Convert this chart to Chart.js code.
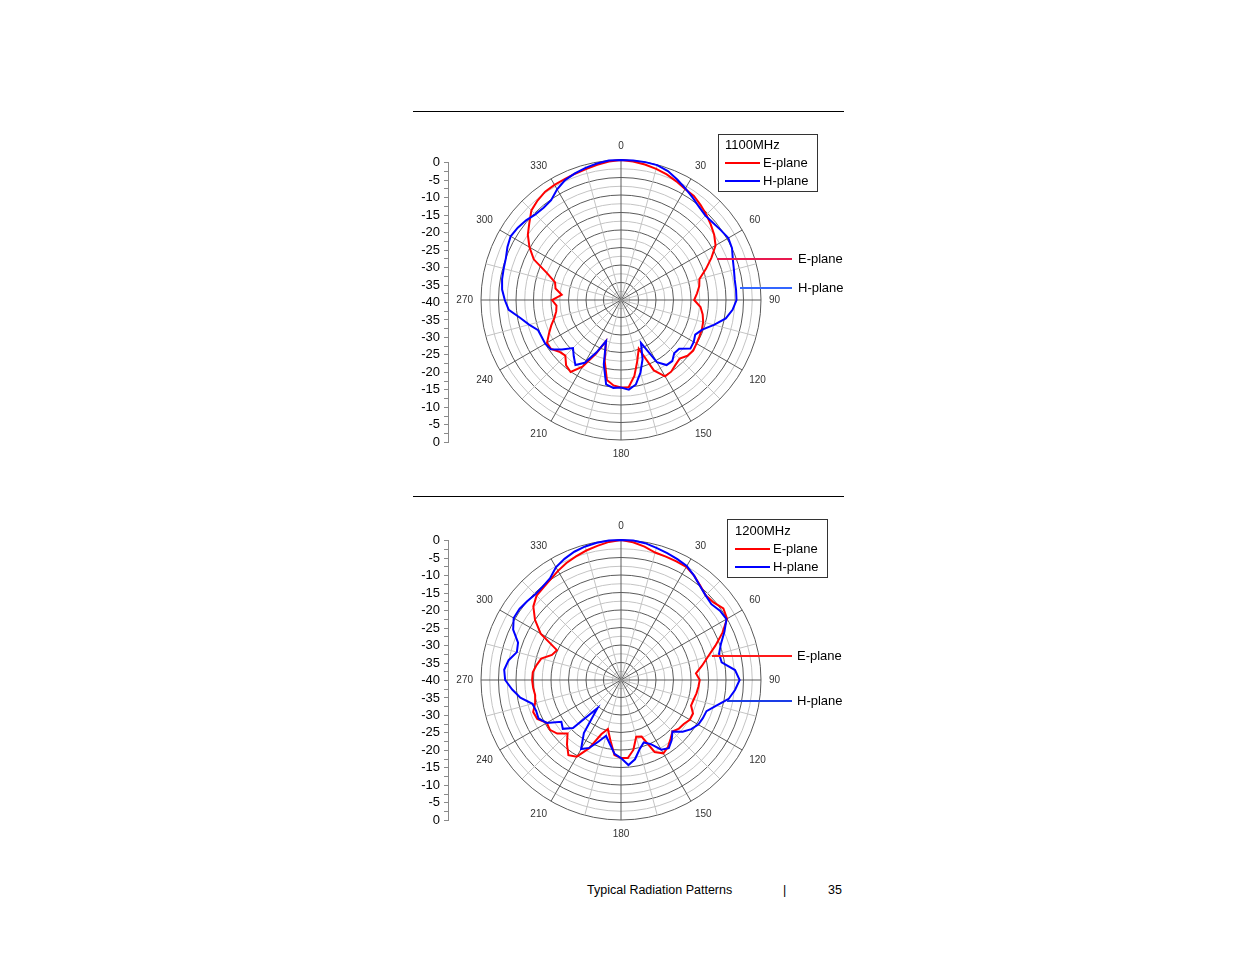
<!DOCTYPE html>
<html>
<head>
<meta charset="utf-8">
<script src="https://cdn.jsdelivr.net/npm/chart.js@4.4.1/dist/chart.umd.min.js"></script>
<style>
  html, body { margin:0; padding:0; background:#fff; }
  body { width:1235px; height:954px; position:relative; overflow:hidden; font-family:"Liberation Sans", Arial, sans-serif; color:#000; }
  canvas { position:absolute; }
  .rule { position:absolute; left:413px; width:431px; height:0; border-top:1px solid #000; }
  .box { position:absolute; border:1px solid #333; background:#fff; }
  .t { position:absolute; font-size:13px; line-height:14px; white-space:nowrap; }
  .f { position:absolute; font-size:12.5px; line-height:14px; white-space:nowrap; }
  .ln { position:absolute; height:0; }
</style>
</head>
<body>

<div class="rule" style="top:111px"></div>
<div class="rule" style="top:496px"></div>

<canvas id="axis1" width="50" height="303" style="left:408px;top:151px"></canvas>
<canvas id="polar1" width="400" height="320" style="left:421px;top:140px"></canvas>
<canvas id="axis2" width="50" height="303" style="left:408px;top:529px"></canvas>
<canvas id="polar2" width="400" height="320" style="left:421px;top:520px"></canvas>

<!-- legend 1 -->
<div class="box" style="left:718px;top:134px;width:98px;height:56px"></div>
<div class="t" style="left:725px;top:138px">1100MHz</div>
<div class="ln" style="left:725px;top:162px;width:35px;border-top:2px solid #ff0000"></div>
<div class="t" style="left:763px;top:156px">E-plane</div>
<div class="ln" style="left:725px;top:180px;width:35px;border-top:2px solid #0000ff"></div>
<div class="t" style="left:763px;top:174px">H-plane</div>

<!-- callouts 1 -->
<div class="ln" style="left:717px;top:258px;width:75px;border-top:2px solid #e8194f"></div>
<div class="t" style="left:798px;top:252px">E-plane</div>
<div class="ln" style="left:740px;top:287px;width:52px;border-top:2px solid #3366ff"></div>
<div class="t" style="left:798px;top:281px">H-plane</div>

<!-- legend 2 -->
<div class="box" style="left:727px;top:519px;width:99px;height:57px"></div>
<div class="t" style="left:735px;top:524px">1200MHz</div>
<div class="ln" style="left:735px;top:548px;width:35px;border-top:2px solid #ff0000"></div>
<div class="t" style="left:773px;top:542px">E-plane</div>
<div class="ln" style="left:735px;top:566px;width:35px;border-top:2px solid #0000ff"></div>
<div class="t" style="left:773px;top:560px">H-plane</div>

<!-- callouts 2 -->
<div class="ln" style="left:712px;top:655px;width:80px;border-top:2px solid #ff1a1a"></div>
<div class="t" style="left:797px;top:649px">E-plane</div>
<div class="ln" style="left:727px;top:700px;width:65px;border-top:2px solid #1a3ce6"></div>
<div class="t" style="left:797px;top:694px">H-plane</div>

<!-- footer -->
<div class="f" style="left:587px;top:883px">Typical Radiation Patterns</div>
<div class="f" style="left:783px;top:883px">|</div>
<div class="f" style="left:828px;top:883px">35</div>

<script>
// ---- data (dB, every 5 degrees, 0 = top, clockwise) ----
const angles = [0,5,10,15,20,25,30,35,40,45,50,55,60,65,70,75,80,85,90,95,100,105,110,115,120,125,130,135,140,145,150,155,160,165,170,175,180,185,190,195,200,205,210,215,220,225,230,235,240,245,250,255,260,265,270,275,280,285,290,295,300,305,310,315,320,325,330,335,340,345,350,355];

const e1100 = [0,-0.3,-0.7,-1.2,-1.8,-2.6,-3.4,-3.7,-4.6,-5.5,-6.5,-7.5,-8.8,-11.5,-14.2,-16.8,-17.3,-18.2,-19.1,-17.2,-16.3,-15.7,-15.4,-15.3,-15.1,-14.8,-15.2,-16.3,-15.8,-15.0,-14.8,-17.8,-25.2,-22.0,-18.0,-15.0,-15.0,-15.5,-16.8,-22.0,-27.5,-23.0,-18.0,-14.9,-15.6,-17.5,-17.0,-15.6,-15.6,-17.3,-18.8,-20.3,-21.2,-21.5,-20.3,-23.0,-21.0,-20.5,-17.5,-12.5,-9.8,-7.5,-5.8,-3.8,-2.9,-2.2,-2.0,-1.9,-1.6,-1.3,-0.8,-0.3];

const h1100 = [0,0,0,-0.1,-0.8,-2.0,-3.2,-4.3,-5.3,-5.9,-5.7,-5.2,-4.6,-5.0,-6.0,-6.6,-7.0,-7.0,-7.0,-8.0,-9.6,-12.5,-15.3,-16.6,-16.0,-15.8,-18.3,-18.5,-17.2,-17.3,-19.5,-26.5,-22.0,-18.5,-15.5,-14.3,-15.0,-14.8,-15.5,-21.0,-27.5,-23.5,-19.3,-17.3,-19.0,-20.6,-18.0,-15.5,-15.0,-15.0,-14.8,-12.8,-10.7,-7.8,-6.8,-5.9,-5.5,-5.3,-5.0,-4.2,-3.6,-4.0,-4.6,-5.4,-5.6,-5.2,-3.5,-2.2,-1.5,-0.9,-0.4,0];

const e1200 = [0,-0.5,-1.3,-2.3,-2.5,-2.6,-2.7,-3.6,-4.8,-5.8,-5.5,-4.3,-5.0,-8.0,-11.3,-14.3,-16.5,-18.5,-17.5,-17.8,-18.1,-18.5,-18.7,-17.3,-17.3,-18.1,-18.4,-19.2,-18.0,-16.6,-15.8,-17.3,-22.8,-23.2,-19.7,-17.6,-17.7,-18.5,-22.5,-25.5,-23.5,-18.5,-14.7,-13.8,-16.0,-18.4,-16.2,-15.2,-15.5,-13.6,-13.3,-14.6,-15.1,-14.8,-14.6,-14.7,-15.5,-16.4,-19.0,-19.8,-13.5,-10.0,-7.3,-5.9,-5.5,-4.9,-4.0,-3.1,-2.4,-1.7,-1.1,-0.4];

const h1200 = [0,0,-0.3,-0.9,-1.4,-1.9,-2.4,-3.6,-4.9,-5.8,-6.3,-5.5,-5.2,-7.4,-9.6,-11.0,-10.8,-7.3,-6.1,-7.3,-8.8,-11.8,-14.0,-14.2,-14.5,-15.5,-17.0,-19.2,-17.5,-16.2,-17.0,-19.8,-21.0,-19.5,-17.0,-15.6,-17.7,-18.8,-21.5,-23.5,-21.3,-18.6,-17.2,-21.5,-29.5,-20.6,-18.3,-19.2,-15.5,-14.0,-14.2,-13.8,-10.8,-8.8,-6.9,-6.5,-7.4,-9.2,-8.7,-6.0,-4.6,-4.6,-5.0,-5.4,-5.2,-4.6,-2.8,-1.8,-1.0,-0.5,-0.2,0];

// left-hand dB scale labels, top to bottom
const dbTickLabels = ['0','-5','-10','-15','-20','-25','-30','-35','-40','-35','-30','-25','-20','-15','-10','-5','0'];

Chart.defaults.font.family = '"Liberation Sans", Arial, sans-serif';

function makePolar(id, eData, hData) {
  new Chart(document.getElementById(id), {
    type: 'radar',
    data: {
      labels: angles.map(String),
      datasets: [
        { label: 'E-plane', data: eData, borderColor: '#ff0000', borderWidth: 2, pointRadius: 0, fill: false, order: 1 },
        { label: 'H-plane', data: hData, borderColor: '#0000ff', borderWidth: 2, pointRadius: 0, fill: false, order: 0 }
      ]
    },
    options: {
      responsive: false, animation: false, events: [],
      plugins: { legend: { display: false }, tooltip: { enabled: false } },
      layout: { padding: 0 },
      elements: { line: { tension: 0 } },
      scales: {
        r: {
          min: -40, max: 0, startAngle: 0,
          ticks: { display: false, stepSize: 2.5 },
          grid: {
            circular: true, lineWidth: 1,
            color: ctx => (ctx.tick && Math.abs(ctx.tick.value % 5) < 1e-6) ? '#5a5a5a' : '#c4c4c4'
          },
          angleLines: {
            display: true, lineWidth: 1,
            color: ctx => { const a = angles[ctx.index]; return a % 30 === 0 ? '#5a5a5a' : (a % 15 === 0 ? '#c4c4c4' : 'rgba(0,0,0,0)'); }
          },
          pointLabels: {
            display: true, padding: 8, color: '#333', font: { size: 10 },
            callback: l => (Number(l) % 30 === 0 ? l : '')
          }
        }
      }
    }
  });
}

function makeDbAxis(id) {
  new Chart(document.getElementById(id), {
    type: 'scatter',
    data: { datasets: [] },
    options: {
      responsive: false, animation: false, events: [],
      plugins: { legend: { display: false }, tooltip: { enabled: false } },
      layout: { padding: { top: 10, bottom: 10, left: 0, right: 0 } },
      scales: {
        x: { display: false },
        y: {
          min: 0, max: 80, position: 'left',
          afterFit: s => { s.width = 40; },
          ticks: {
            stepSize: 2.5, autoSkip: false, padding: 4, color: '#000', font: { size: 13 },
            callback: v => (Math.abs(v % 5) < 1e-6 ? dbTickLabels[16 - Math.round(v / 5)] : '')
          },
          grid: { display: true, drawOnChartArea: false, drawTicks: true, tickLength: 4, tickColor: '#8a8a8a' },
          border: { display: true, color: '#8a8a8a' }
        }
      }
    }
  });
}

makeDbAxis('axis1');
makeDbAxis('axis2');
makePolar('polar1', e1100, h1100);
makePolar('polar2', e1200, h1200);
</script>
</body>
</html>
